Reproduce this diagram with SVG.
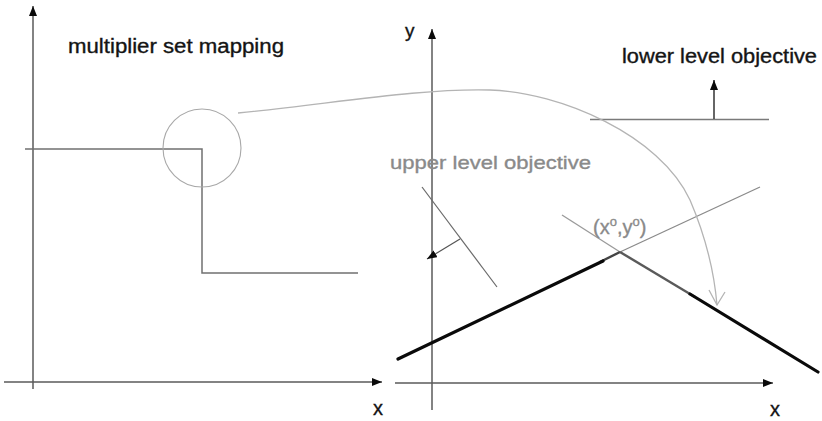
<svg xmlns="http://www.w3.org/2000/svg" width="822" height="421" viewBox="0 0 822 421">
<style>
.t{font-family:"Liberation Sans",Arial,sans-serif;fill:#141414;stroke:#141414;stroke-width:0.35}
.g{fill:#8a8a8a;stroke:#8a8a8a}
.ax{stroke:#5a5a5a;stroke-width:1.5;fill:none}
.thin{stroke:#6a6a6a;stroke-width:1.2;fill:none}
.lite{stroke:#b4b4b4;stroke-width:1.3;fill:none}
.thick{stroke:#0a0a0a;stroke-width:3.2;fill:none;stroke-linecap:round}
</style>
<defs>
<marker id="ah" viewBox="0 0 10 8" refX="10" refY="4" markerWidth="10" markerHeight="8" markerUnits="userSpaceOnUse" orient="auto">
<path d="M0,0 L10,4 L0,8 Z" fill="#0a0a0a"/>
</marker>
</defs>
<rect width="822" height="421" fill="#ffffff"/>

<g id="left-panel">
<line class="ax" x1="33" y1="389" x2="33" y2="6" marker-end="url(#ah)"/>
<line class="ax" x1="4" y1="382" x2="382" y2="382" marker-end="url(#ah)"/>
<polyline class="ax" points="25,149 202,149 202,273 358,273" style="stroke:#707070"/>
<circle cx="202" cy="148" r="39" class="lite" style="stroke:#a8a8a8;stroke-width:1.1"/>
<text class="t" x="68" y="53" font-size="20" textLength="216" lengthAdjust="spacingAndGlyphs">multiplier set mapping</text>
<text class="t" x="373" y="415" font-size="20">x</text>
</g>

<g id="right-panel">
<line class="ax" x1="432" y1="410" x2="432" y2="29" marker-end="url(#ah)"/>
<line class="ax" x1="395" y1="383" x2="773" y2="383" marker-end="url(#ah)"/>
<text class="t" x="405" y="37" font-size="19">y</text>
<text class="t" x="770" y="416" font-size="20">x</text>

<g id="lower-level-objective">
<line class="thin" x1="590" y1="119.5" x2="769" y2="119.5" style="stroke:#7a7a7a;stroke-width:1.5"/>
<line class="thin" x1="714" y1="119" x2="714" y2="80" style="stroke:#333;stroke-width:1.5" marker-end="url(#ah)"/>
<text class="t" x="622" y="63" font-size="19.5" textLength="195" lengthAdjust="spacingAndGlyphs">lower level objective</text>
</g>

<g id="upper-level-objective">
<line class="thin" x1="422" y1="187" x2="497" y2="287"/>
<line class="thin" x1="460" y1="239" x2="427" y2="259" style="stroke:#555" marker-end="url(#ah)"/>
<text class="t g" x="390" y="169" font-size="19" textLength="201" lengthAdjust="spacingAndGlyphs">upper level objective</text>
</g>

<g id="feasible-set">
<line class="lite" x1="562" y1="215" x2="620" y2="252" style="stroke:#9a9a9a"/>
<line class="lite" x1="620" y1="252" x2="760" y2="187" style="stroke:#8a8a8a"/>
<line x1="600" y1="262" x2="620" y2="252" stroke="#444" stroke-width="2.4"/>
<line x1="620" y1="252" x2="695" y2="297" stroke="#5a5a5a" stroke-width="2.4"/>
<line class="thick" x1="398" y1="359" x2="603" y2="261"/>
<line class="thick" x1="690" y1="294" x2="818" y2="372"/>
<text class="t g" x="593" y="234" font-size="20">(x<tspan font-size="13" dy="-8">o</tspan><tspan dy="8">,y</tspan><tspan font-size="13" dy="-8">o</tspan><tspan dy="8">)</tspan></text>
</g>
</g>

<g id="connectors">
<path class="lite" d="M238,113 C330,104 420,88 490,90 C560,92 660,135 690,200 C705,235 714,270 717,305"/>
<path class="lite" d="M709,290 L717,305 L725,292"/>
</g>
</svg>
